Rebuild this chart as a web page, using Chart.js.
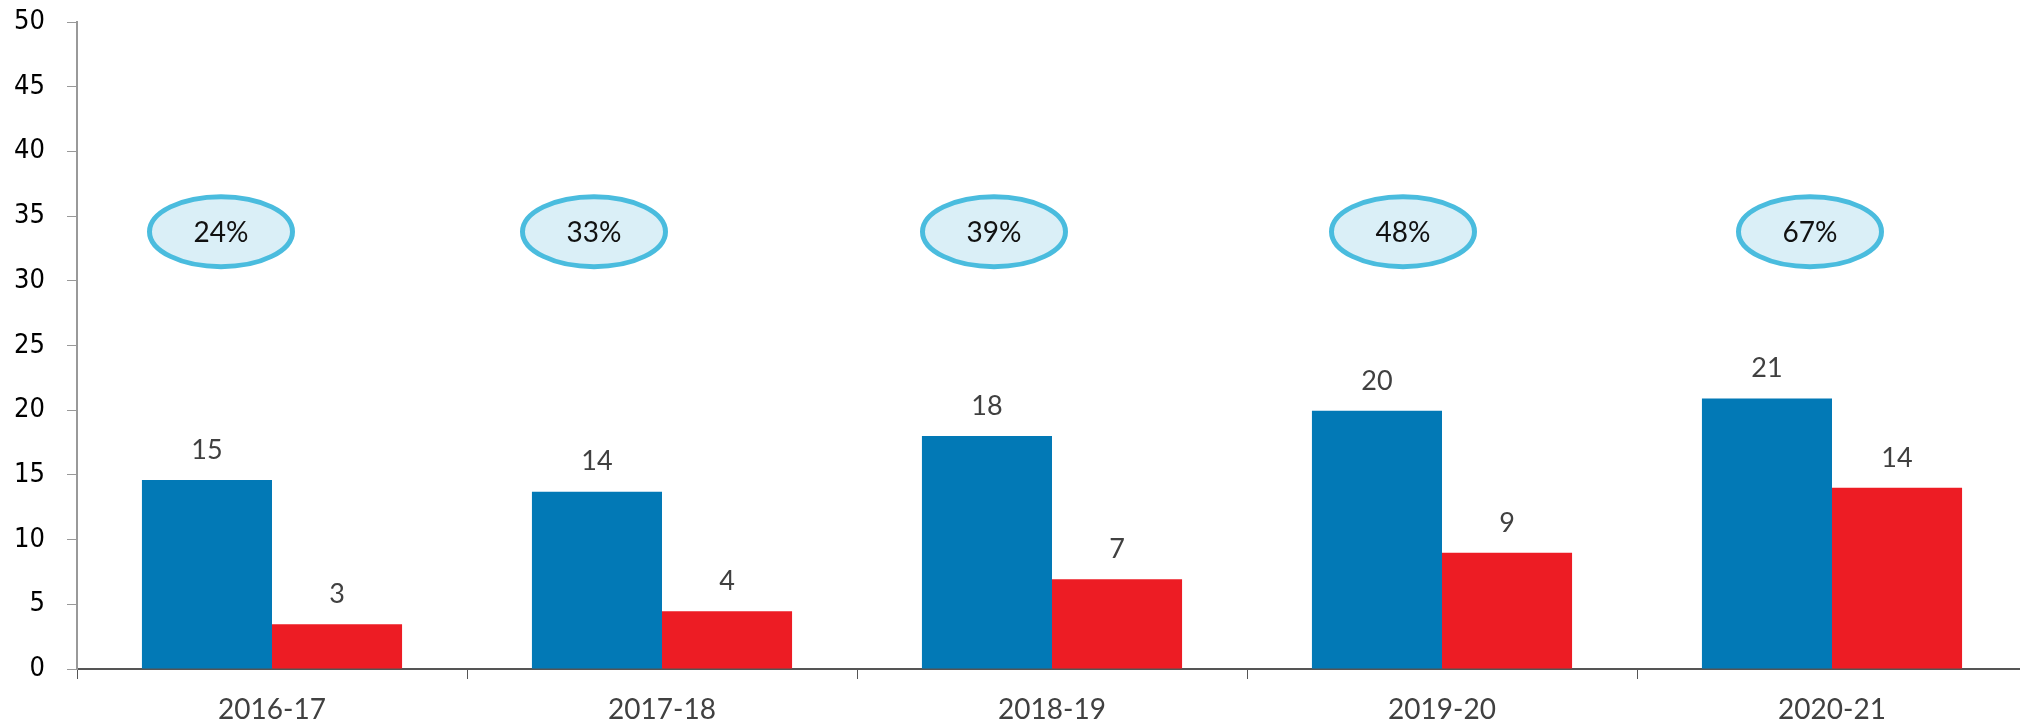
<!DOCTYPE html>
<html>
<head>
<meta charset="utf-8">
<script src="https://cdn.jsdelivr.net/npm/chart.js@4/dist/chart.umd.min.js"></script>
<style>
  html, body { margin: 0; padding: 0; background: #fff; overflow: hidden; }
  #wrap { position: absolute; left: 0; top: 0; width: 2027px; height: 725px; }
</style>
</head>
<body>
<div id="wrap"><canvas id="chart"></canvas></div>
<script>
const categories = ['2016-17', '2017-18', '2018-19', '2019-20', '2020-21'];
const blueValues = [14.6, 13.7, 18.0, 19.95, 20.9];
const redValues = [3.46, 4.46, 6.93, 8.98, 14.0];
const shareLabels = ['24%', '33%', '39%', '48%', '67%'];
const yMax = 50;
const yStep = 5;

// value labels above each bar
const barLabels = {
  id: 'barLabels',
  afterDatasetsDraw(chart) {
    const ctx = chart.ctx;
    ctx.save();
    ctx.font = '27px Lato';
    ctx.fillStyle = '#404040';
    ctx.textAlign = 'center';
    ctx.textBaseline = 'middle';
    chart.data.datasets.forEach((ds, i) => {
      chart.getDatasetMeta(i).data.forEach((bar, j) => {
        ctx.fillText(String(Math.round(ds.data[j])), bar.x, bar.y - 30);
      });
    });
    ctx.restore();
  }
};

// light blue ovals with the share text
const shareBubbles = {
  id: 'shareBubbles',
  afterDatasetsDraw(chart, args, opts) {
    const ctx = chart.ctx;
    const xs = chart.scales.x;
    const ys = chart.scales.y;
    ctx.save();
    opts.labels.forEach((txt, i) => {
      const cx = xs.getPixelForValue(i) + opts.shift[i];
      const cy = ys.getPixelForValue(opts.level);
      ctx.beginPath();
      ctx.ellipse(cx, cy, 71.5, 35, 0, 0, Math.PI * 2);
      ctx.fillStyle = '#DAEFF7';
      ctx.fill();
      ctx.lineWidth = 5;
      ctx.strokeStyle = '#4ABCDE';
      ctx.stroke();
      ctx.font = '28px Lato';
      ctx.fillStyle = '#111';
      ctx.textAlign = 'center';
      ctx.textBaseline = 'middle';
      ctx.fillText(txt, cx, cy + 1);
    });
    ctx.restore();
  }
};

new Chart(document.getElementById('chart'), {
  type: 'bar',
  data: {
    labels: categories,
    datasets: [
      { data: blueValues, backgroundColor: '#0279B6', categoryPercentage: 0.667, barPercentage: 1 },
      { data: redValues, backgroundColor: '#ED1C24', categoryPercentage: 0.667, barPercentage: 1 }
    ]
  },
  options: {
    responsive: true,
    maintainAspectRatio: false,
    animation: false,
    layout: { padding: { top: 22, left: 0, right: 0, bottom: 0 } },
    plugins: {
      legend: { display: false },
      tooltip: { enabled: false },
      shareBubbles: {
        labels: shareLabels,
        level: 33.8,
        shift: [-51, -68, -58, -39, -22]
      }
    },
    scales: {
      x: {
        grid: { drawOnChartArea: false, color: '#555', tickLength: 10, offset: true },
        border: { color: '#555', width: 2 },
        ticks: { font: { family: 'Lato', size: 28 }, color: '#404040', padding: 14 },
        afterFit(scale) { scale.height = 56; }
      },
      y: {
        min: 0,
        max: yMax,
        grid: { drawOnChartArea: false, color: '#999', tickLength: 10 },
        border: { color: '#999', width: 2 },
        ticks: {
          stepSize: yStep,
          font: { family: "'DejaVu Sans Condensed', 'DejaVu Sans'", size: 27 },
          color: '#000',
          padding: 22
        },
        afterFit(scale) {
          scale.width = 77;
          scale.paddingTop = 0;
          scale.paddingBottom = 0;
        }
      }
    }
  },
  plugins: [barLabels, shareBubbles]
});
</script>
</body>
</html>
